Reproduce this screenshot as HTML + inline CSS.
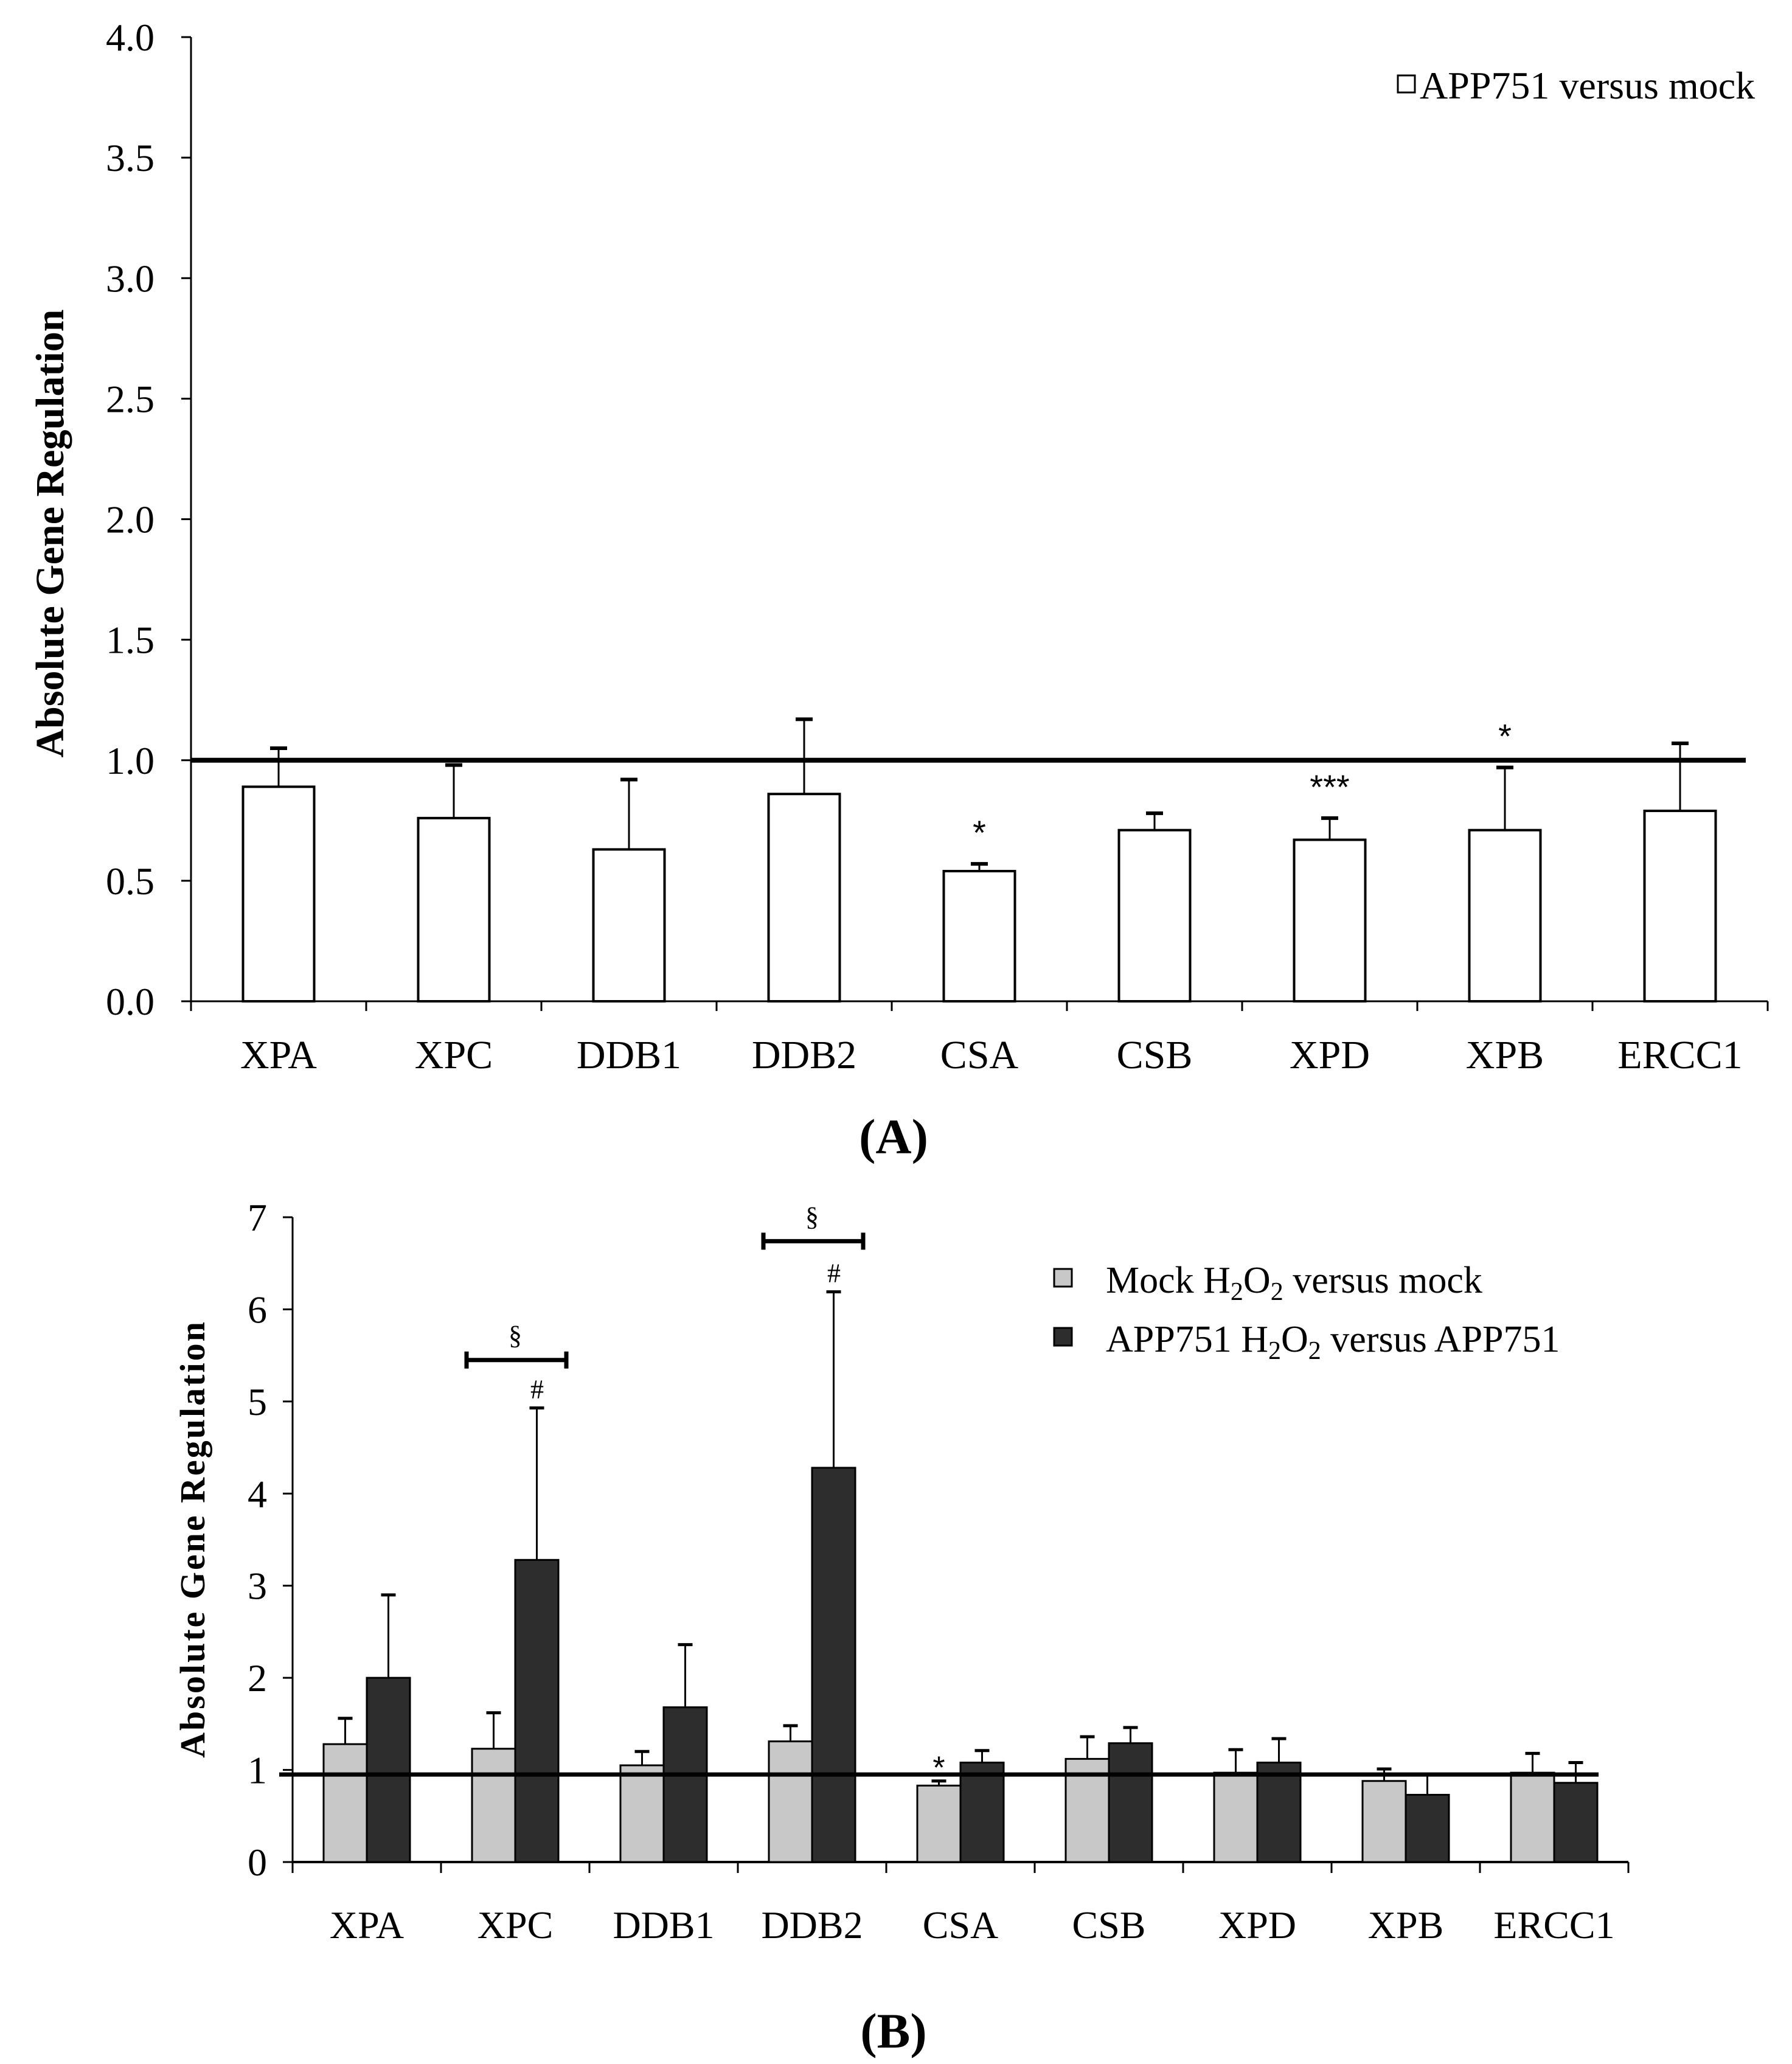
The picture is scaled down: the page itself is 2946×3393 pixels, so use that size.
<!DOCTYPE html>
<html><head><meta charset="utf-8"><style>
html,body{margin:0;padding:0;background:#fff;}
svg{display:block;font-family:"Liberation Serif",serif;}
</style></head><body>
<svg id="chart" width="2946" height="3393" viewBox="0 0 2946 3393" xmlns="http://www.w3.org/2000/svg">
<rect width="2946" height="3393" fill="#fff"/>
<g id="A"></g>
<g id="B"></g>
</svg>
<script>
const categories = ["XPA","XPC","DDB1","DDB2","CSA","CSB","XPD","XPB","ERCC1"];
const aValues = [0.89,0.76,0.63,0.86,0.54,0.71,0.67,0.71,0.79];
const aErrTop = [1.05,0.98,0.92,1.17,0.57,0.78,0.76,0.97,1.07];
const aTicks = ["0.0","0.5","1.0","1.5","2.0","2.5","3.0","3.5","4.0"];
const bMock = [1.28,1.23,1.05,1.31,0.83,1.12,0.97,0.88,0.97];
const bMockErr = [1.56,1.62,1.20,1.48,0.88,1.36,1.22,1.01,1.18];
const bApp = [2.0,3.28,1.68,4.28,1.08,1.29,1.08,0.73,0.86];
const bAppErr = [2.9,4.93,2.36,6.19,1.21,1.46,1.34,0.95,1.08];
const bTicks = ["0","1","2","3","4","5","6","7"];
const NS="http://www.w3.org/2000/svg";
function mk(parent,tag,attrs,text){const e=document.createElementNS(NS,tag);for(const k in attrs)e.setAttribute(k,attrs[k]);if(text!==undefined)e.textContent=text;parent.appendChild(e);return e;}

// Panel A
(function(){
 const g=document.getElementById('A');
 const x0=314, slot=288, y0=1646, unit=(1646-61)/4;
 const y=v=>y0-v*unit, xc=i=>x0+slot*(i+0.5);
 let e=mk(g,'line',{x1:x0,y1:y(4),x2:x0,y2:y0,stroke:'#000','stroke-width':3});
 
 e=mk(g,'line',{x1:x0,y1:y0,x2:x0+slot*9,y2:y0,stroke:'#000','stroke-width':3});
 
 aTicks.forEach((t,i)=>{const v=parseFloat(t);
  mk(g,'line',{x1:x0-16,y1:y(v),x2:x0,y2:y(v),stroke:'#000','stroke-width':3});
  e=mk(g,'text',{x:x0-60,y:y(v)+22,'text-anchor':'end','font-size':64},t);
  });
 for(let i=0;i<=9;i++)mk(g,'line',{x1:x0+slot*i,y1:y0,x2:x0+slot*i,y2:y0+16,stroke:'#000','stroke-width':3});
 categories.forEach((c,i)=>{
  const bw=117,cx=xc(i);
  e=mk(g,'line',{x1:cx,y1:y(aValues[i]),x2:cx,y2:y(aErrTop[i]),stroke:'#000','stroke-width':3});
  
  mk(g,'line',{x1:cx-14,y1:y(aErrTop[i]),x2:cx+14,y2:y(aErrTop[i]),stroke:'#000','stroke-width':6});
  e=mk(g,'rect',{x:cx-bw/2,y:y(aValues[i]),width:bw,height:y0-y(aValues[i]),fill:'#fff',stroke:'#000','stroke-width':4});
  
  e=mk(g,'text',{x:cx,y:1756,'text-anchor':'middle','font-size':66},c);
  
 });
 e=mk(g,'line',{x1:x0,y1:y(1),x2:2870,y2:y(1),stroke:'#000','stroke-width':8});
 
 [[4,0.57,'*'],[6,0.76,'***'],[7,0.97,'*']].forEach(s=>{
  e=mk(g,'text',{x:xc(s[0]),y:y(s[1])-32,'text-anchor':'middle','font-size':56,'font-family':'Liberation Sans,sans-serif'},s[2]);
  });
 e=mk(g,'text',{x:0,y:0,transform:'translate(104,877) rotate(-90)','text-anchor':'middle','font-size':66,'font-weight':'bold'},'Absolute Gene Regulation');
 
 e=mk(g,'rect',{x:2298,y:124,width:28,height:28,fill:'#fff',stroke:'#000','stroke-width':3});
 
 e=mk(g,'text',{x:2334,y:162,'font-size':64},'APP751 versus mock');
 
 e=mk(g,'text',{x:1469,y:1896,'text-anchor':'middle','font-size':82,'font-weight':'bold'},'(A)');
 
})();

// Panel B
(function(){
 const g=document.getElementById('B');
 const x0=481, slot=244, y0=3061, unit=(3061-2001)/7;
 const y=v=>y0-v*unit, xc=i=>x0+slot*(i+0.5);
 let e=mk(g,'line',{x1:x0,y1:y(7),x2:x0,y2:y0,stroke:'#000','stroke-width':3});
 
 e=mk(g,'line',{x1:x0,y1:y0,x2:x0+slot*9,y2:y0,stroke:'#000','stroke-width':4});
 
 bTicks.forEach(t=>{const v=parseFloat(t);
  mk(g,'line',{x1:x0-16,y1:y(v),x2:x0,y2:y(v),stroke:'#000','stroke-width':3});
  e=mk(g,'text',{x:x0-42,y:y(v)+22,'text-anchor':'end','font-size':64},t);
  });
 for(let i=0;i<=9;i++)mk(g,'line',{x1:x0+slot*i,y1:y0,x2:x0+slot*i,y2:y0+18,stroke:'#000','stroke-width':3});
 const bw=71;
 categories.forEach((c,i)=>{
  const cx=xc(i);
  [[bMock,bMockErr,cx-bw,'#c8c8c8','mock'],[bApp,bAppErr,cx,'#2d2d2d','app751']].forEach(s=>{
   const v=s[0][i],er=s[1][i],bx=s[2]+bw/2;
   e=mk(g,'line',{x1:bx,y1:y(v),x2:bx,y2:y(er),stroke:'#000','stroke-width':3});
   
   mk(g,'line',{x1:bx-12,y1:y(er),x2:bx+12,y2:y(er),stroke:'#000','stroke-width':5});
   e=mk(g,'rect',{x:s[2],y:y(v),width:bw,height:y0-y(v),fill:s[3],stroke:'#000','stroke-width':3});
   
  });
  e=mk(g,'text',{x:cx,y:3186,'text-anchor':'middle','font-size':64},c);
  
 });
 e=mk(g,'line',{x1:459,y1:y(0.95),x2:2628,y2:y(0.95),stroke:'#000','stroke-width':7});
 
 [[1,5.45],[3,6.74]].forEach(b=>{const cx=xc(b[0])+2,yy=y(b[1]);
  e=mk(g,'path',{d:`M${cx-82},${yy-14}V${yy+14}M${cx-82},${yy}H${cx+82}M${cx+82},${yy-14}V${yy+14}`,stroke:'#000','stroke-width':7,fill:'none'});
  
  e=mk(g,'text',{x:cx-2,y:yy-26,'text-anchor':'middle','font-size':44},'§');
  
 });
 [1,3].forEach(i=>{e=mk(g,'text',{x:xc(i)+36,y:y(bAppErr[i])-16,'text-anchor':'middle','font-size':44},'#');
  });
 e=mk(g,'text',{x:xc(4)-bw/2,y:y(bMockErr[4])-4,'text-anchor':'middle','font-size':52,'font-family':'Liberation Sans,sans-serif'},'*');
 
 e=mk(g,'text',{x:0,y:0,transform:'translate(336,2530) rotate(-90)','text-anchor':'middle','font-size':58,'font-weight':'bold','letter-spacing':3},'Absolute Gene Regulation');
 
 e=mk(g,'rect',{x:1733,y:2086,width:29,height:29,fill:'#c8c8c8',stroke:'#000','stroke-width':3});
 
 e=mk(g,'text',{x:1818,y:2125,'font-size':62});
 
 e.innerHTML='Mock H<tspan font-size="42" dy="12">2</tspan><tspan dy="-12">O</tspan><tspan font-size="42" dy="12">2</tspan><tspan dy="-12"> versus mock</tspan>';
 e=mk(g,'rect',{x:1733,y:2183,width:29,height:29,fill:'#2d2d2d',stroke:'#000','stroke-width':3});
 
 e=mk(g,'text',{x:1818,y:2222,'font-size':62});
 
 e.innerHTML='APP751 H<tspan font-size="42" dy="12">2</tspan><tspan dy="-12">O</tspan><tspan font-size="42" dy="12">2</tspan><tspan dy="-12"> versus APP751</tspan>';
 e=mk(g,'text',{x:1469,y:3366,'text-anchor':'middle','font-size':82,'font-weight':'bold'},'(B)');
 
})();
</script>
</body></html>
